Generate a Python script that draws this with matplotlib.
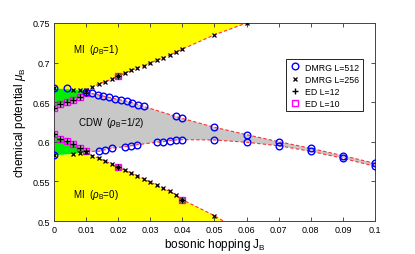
import matplotlib
matplotlib.use("Agg")
import matplotlib.pyplot as plt

plt.rcParams['font.family'] = ['Liberation Sans', 'DejaVu Sans']
plt.rcParams['mathtext.fontset'] = 'custom'
plt.rcParams['mathtext.rm'] = 'Liberation Sans'
plt.rcParams['mathtext.it'] = 'Liberation Sans:italic'

# ---- DMRG L=512 (blue circles) ----
d512_up_J = [0.0, 0.004, 0.0100, 0.0118, 0.0136, 0.0154, 0.0172, 0.0190, 0.0208,
             0.0226, 0.0244, 0.0262, 0.0280, 0.038, 0.040, 0.05, 0.06, 0.07, 0.08, 0.09, 0.10]
d512_up_mu = [0.6676, 0.6676, 0.6625, 0.6610, 0.6595, 0.6577, 0.6560, 0.6543, 0.6528,
              0.6512, 0.6494, 0.6470, 0.6446, 0.6320, 0.6295, 0.6183, 0.6090, 0.6001,
              0.5918, 0.5825, 0.5728]
d512_lo_J = [0.0, 0.014, 0.016, 0.018, 0.022, 0.024, 0.026, 0.032, 0.034, 0.036, 0.038,
             0.040, 0.05, 0.06, 0.07, 0.08, 0.09, 0.10]
d512_lo_mu = [0.5830, 0.5880, 0.5900, 0.5918, 0.5938, 0.5950, 0.5963, 0.5994, 0.6001,
              0.6014, 0.6023, 0.6027, 0.6023, 0.5994, 0.5950, 0.5880, 0.5792, 0.5690]

# ---- DMRG L=256 (black x) ----
d256_up_J = [0.0, 0.006, 0.008, 0.010, 0.012, 0.014, 0.016, 0.018, 0.020, 0.022, 0.024,
             0.026, 0.028, 0.030, 0.032, 0.034, 0.036, 0.038, 0.040, 0.05, 0.06]
d256_up_mu = [0.6676, 0.6658, 0.6648, 0.6652, 0.6690, 0.6730, 0.6759, 0.6793, 0.6827,
              0.6865, 0.6900, 0.6932, 0.6960, 0.6995, 0.7029, 0.7058, 0.7096, 0.7130,
              0.7170, 0.7350, 0.7500]
d256_lo_J = [0.0, 0.006, 0.008, 0.010, 0.012, 0.014, 0.016, 0.018, 0.020, 0.022, 0.024,
             0.026, 0.028, 0.030, 0.032, 0.034, 0.036, 0.038, 0.040, 0.05]
d256_lo_mu = [0.5830, 0.5846, 0.5859, 0.5867, 0.5825, 0.5792, 0.5754, 0.5720, 0.5678,
              0.5644, 0.5602, 0.5572, 0.5530, 0.5489, 0.5455, 0.5413, 0.5375, 0.5332,
              0.5269, 0.5067]
mi0_end_J = 0.0527  # where the MI(0) boundary reaches mu=0.5

# ---- ED L=12 (black +) ----
ed12_up_J = [0.0, 0.002, 0.004, 0.006, 0.008, 0.010, 0.020]
ed12_up_mu = [0.6423, 0.6477, 0.6506, 0.6532, 0.6570, 0.6616, 0.6835]
ed12_lo_J = [0.0, 0.002, 0.004, 0.006, 0.008, 0.010, 0.020, 0.040]
ed12_lo_mu = [0.6095, 0.6040, 0.6010, 0.5968, 0.5925, 0.5880, 0.5678, 0.5265]

# ---- ED L=10 (magenta squares) ----
ed10_J = [0.0, 0.002, 0.004, 0.006, 0.008, 0.010, 0.020,
          0.0, 0.002, 0.004, 0.006, 0.008, 0.010, 0.020, 0.040]
ed10_mu = [0.6423, 0.6477, 0.6506, 0.6532, 0.6570, 0.6616, 0.6835,
           0.6095, 0.6040, 0.6010, 0.5968, 0.5925, 0.5880, 0.5678, 0.5265]

x_ticks = [0, 0.01, 0.02, 0.03, 0.04, 0.05, 0.06, 0.07, 0.08, 0.09, 0.1]
x_ticklabels = ['0', '0.01', '0.02', '0.03', '0.04', '0.05', '0.06', '0.07', '0.08', '0.09', '0.1']
y_ticks = [0.5, 0.55, 0.6, 0.65, 0.7, 0.75]
y_ticklabels = ['0.5', '0.55', '0.6', '0.65', '0.7', '0.75']

fig = plt.figure(figsize=(4.15, 2.55), dpi=100)
ax = fig.add_axes([0.130, 0.1294, 0.7736, 0.7766])
ymax, ymin = 0.75, 0.5

YEL = '#ffff00'
GRN = '#00ee00'
GRY = '#c8c8c8'

# Yellow MI(rho=1)
px = [0.0] + d256_up_J + [d256_up_J[-1]]
py = [ymax] + d256_up_mu + [ymax]
ax.fill(px, py, color=YEL, lw=0, zorder=1)
# Yellow MI(rho=0)
px = [0.0] + d256_lo_J + [mi0_end_J, 0.0]
py = [ymin] + d256_lo_mu + [ymin, ymin]
ax.fill(px, py, color=YEL, lw=0, zorder=1)

# Green regions (J <= 0.01)
n_up = d256_up_J.index(0.010) + 1
n_ed = ed12_up_J.index(0.010) + 1
gx = d256_up_J[:n_up] + ed12_up_J[:n_ed][::-1]
gy = d256_up_mu[:n_up] + ed12_up_mu[:n_ed][::-1]
ax.fill(gx, gy, color=GRN, lw=0, zorder=1)
n_lo = d256_lo_J.index(0.010) + 1
gx = ed12_lo_J[:n_ed] + d256_lo_J[:n_lo][::-1]
gy = ed12_lo_mu[:n_ed] + d256_lo_mu[:n_lo][::-1]
ax.fill(gx, gy, color=GRN, lw=0, zorder=1)

# Grey CDW region
i_up = d512_up_J.index(0.0100)
cx = ed12_up_J[:n_ed] + d512_up_J[i_up + 1:] + d512_lo_J[1:][::-1] + ed12_lo_J[:n_ed][::-1]
cy = ed12_up_mu[:n_ed] + d512_up_mu[i_up + 1:] + d512_lo_mu[1:][::-1] + ed12_lo_mu[:n_ed][::-1]
ax.fill(cx, cy, color=GRY, lw=0, zorder=1)

# Red dashed boundary lines
dash = dict(color='#ff3030', ls=(0, (3, 2)), lw=0.8, zorder=2)
ax.plot(d512_up_J[i_up:], d512_up_mu[i_up:], **dash)
ax.plot([ed12_lo_J[n_ed - 1]] + d512_lo_J[1:], [ed12_lo_mu[n_ed - 1]] + d512_lo_mu[1:], **dash)
k = d256_up_J.index(0.010)
ax.plot(d256_up_J[k:], d256_up_mu[k:], **dash)
k = d256_lo_J.index(0.010)
ax.plot(d256_lo_J[k:] + [mi0_end_J], d256_lo_mu[k:] + [ymin], **dash)

# Markers
ax.plot(ed10_J, ed10_mu, ls='none', marker='s', ms=4, mfc='none', mec='#ff00ff',
        mew=1.0, zorder=3, label='ED L=10')
ax.plot(d256_up_J + d256_lo_J, d256_up_mu + d256_lo_mu, ls='none', marker='x', ms=3,
        color='black', mew=0.9, zorder=4, label='DMRG L=256')
ax.plot(ed12_up_J + ed12_lo_J, ed12_up_mu + ed12_lo_mu, ls='none', marker='+', ms=4.5,
        color='black', mew=1.0, zorder=4, label='ED L=12')
ax.plot(d512_up_J + d512_lo_J, d512_up_mu + d512_lo_mu, ls='none', marker='o', ms=4.8,
        mfc='none', mec='#0000ff', mew=1.0, zorder=5, label='DMRG L=512')

# Text labels
ax.text(0.006, 0.717, r'MI  ($\rho_\mathrm{B}$=1)', fontsize=7, va='center', zorder=6)
ax.text(0.0076, 0.6246, r'CDW  ($\rho_\mathrm{B}$=1/2)', fontsize=7, va='center', zorder=6)
ax.text(0.006, 0.534, r'MI  ($\rho_\mathrm{B}$=0)', fontsize=7, va='center', zorder=6)

ax.set_xlim(0, 0.1)
ax.set_ylim(ymin, ymax)
ax.set_xticks(x_ticks)
ax.set_xticklabels(x_ticklabels)
ax.set_yticks(y_ticks)
ax.set_yticklabels(y_ticklabels)
ax.tick_params(direction='in', top=True, right=True, length=3, width=0.6,
               labelsize=6.5, pad=3, colors='#333333', labelcolor='black')
for s in ax.spines.values():
    s.set_linewidth(0.7)
    s.set_color('#444444')
ax.set_xlabel(r'bosonic hopping J$_\mathrm{B}$', fontsize=8.5, labelpad=1)
ax.set_ylabel(r'chemical potential $\mu_\mathrm{B}$', fontsize=8.5, labelpad=3)

h, l = ax.get_legend_handles_labels()
order = [l.index('DMRG L=512'), l.index('DMRG L=256'), l.index('ED L=12'), l.index('ED L=10')]
leg = ax.legend([h[i] for i in order], [l[i] for i in order], loc='upper left',
                bbox_to_anchor=(0.723, 0.818), fontsize=6.3, frameon=True, fancybox=False,
                edgecolor='black', framealpha=1, borderpad=0.4, labelspacing=0.35,
                handlelength=1.2, handletextpad=0.6, borderaxespad=0)
leg.get_frame().set_linewidth(0.6)
leg.set_zorder(7)

fig.savefig('out.png', dpi=100)
